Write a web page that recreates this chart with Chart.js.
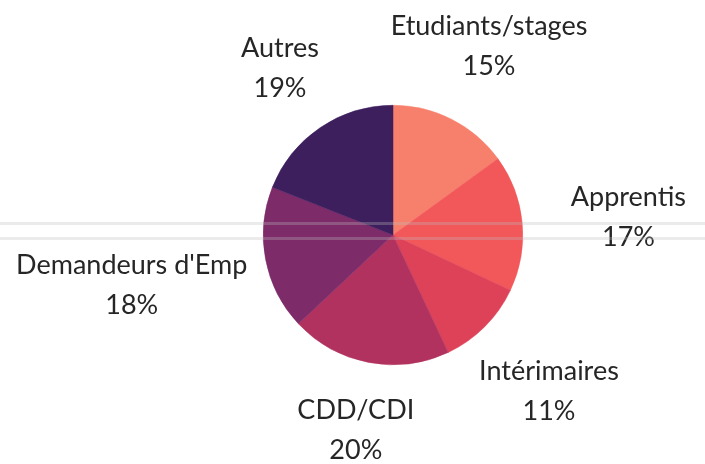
<!DOCTYPE html>
<html>
<head>
<meta charset="utf-8">
<script src="https://cdn.jsdelivr.net/npm/chart.js@4"></script>
<style>
  html, body { margin: 0; padding: 0; background: #ffffff; }
  canvas { display: block; }
</style>
</head>
<body>
<canvas id="c" width="705" height="464"></canvas>
<script>
const categories = ['Etudiants/stages', 'Apprentis', 'Intérimaires', 'CDD/CDI', "Demandeurs d'Emp", 'Autres'];
const shares = [15, 17, 11, 20, 18, 19];
const sliceColors = ['#F7806C', '#F2575A', '#DE4259', '#B1325E', '#7D2B69', '#3E1F5E'];

// label placement (style/layout): distance factor from centre, angle tweak in degrees
const labelDistance = [1.63, 1.82, 1.70, 1.53, 2.05, 1.55];
const labelAngleTweak = [0, 1, 0, 0, 0, 0];

const scanLines = {
  id: 'scanLines',
  afterDraw(chart) {
    const ctx = chart.ctx;
    ctx.save();
    ctx.fillStyle = 'rgba(190,190,190,0.3)';
    ctx.fillRect(0, 222, chart.width, 3);
    ctx.fillRect(0, 237, chart.width, 3);
    ctx.restore();
  }
};

const outsideLabels = {
  id: 'outsideLabels',
  afterDatasetsDraw(chart) {
    const ctx = chart.ctx;
    const meta = chart.getDatasetMeta(0);
    const data = chart.data.datasets[0].data;
    const total = data.reduce((a, b) => a + b, 0);
    ctx.save();
    ctx.font = '27px Lato';
    ctx.fillStyle = '#262626';
    ctx.textAlign = 'center';
    ctx.textBaseline = 'middle';
    meta.data.forEach((arc, i) => {
      const p = arc.getProps(['x', 'y', 'startAngle', 'endAngle', 'outerRadius'], true);
      const mid = (p.startAngle + p.endAngle) / 2 + labelAngleTweak[i] * Math.PI / 180;
      const d = p.outerRadius * labelDistance[i];
      const cx = p.x + Math.cos(mid) * d;
      const cy = p.y + Math.sin(mid) * d;
      const pct = Math.round(data[i] / total * 100) + '%';
      ctx.fillText(chart.data.labels[i], cx, cy - 20);
      ctx.fillText(pct, cx, cy + 20);
    });
    ctx.restore();
  }
};

new Chart(document.getElementById('c'), {
  type: 'pie',
  data: {
    labels: categories,
    datasets: [{
      data: shares,
      backgroundColor: sliceColors,
      borderColor: sliceColors,
      borderWidth: 0.5
    }]
  },
  options: {
    responsive: false,
    animation: false,
    devicePixelRatio: 1,
    layout: { padding: { top: 105, bottom: 99, left: 263, right: 182 } },
    plugins: {
      legend: { display: false },
      tooltip: { enabled: false }
    }
  },
  plugins: [outsideLabels, scanLines]
});
</script>
</body>
</html>
